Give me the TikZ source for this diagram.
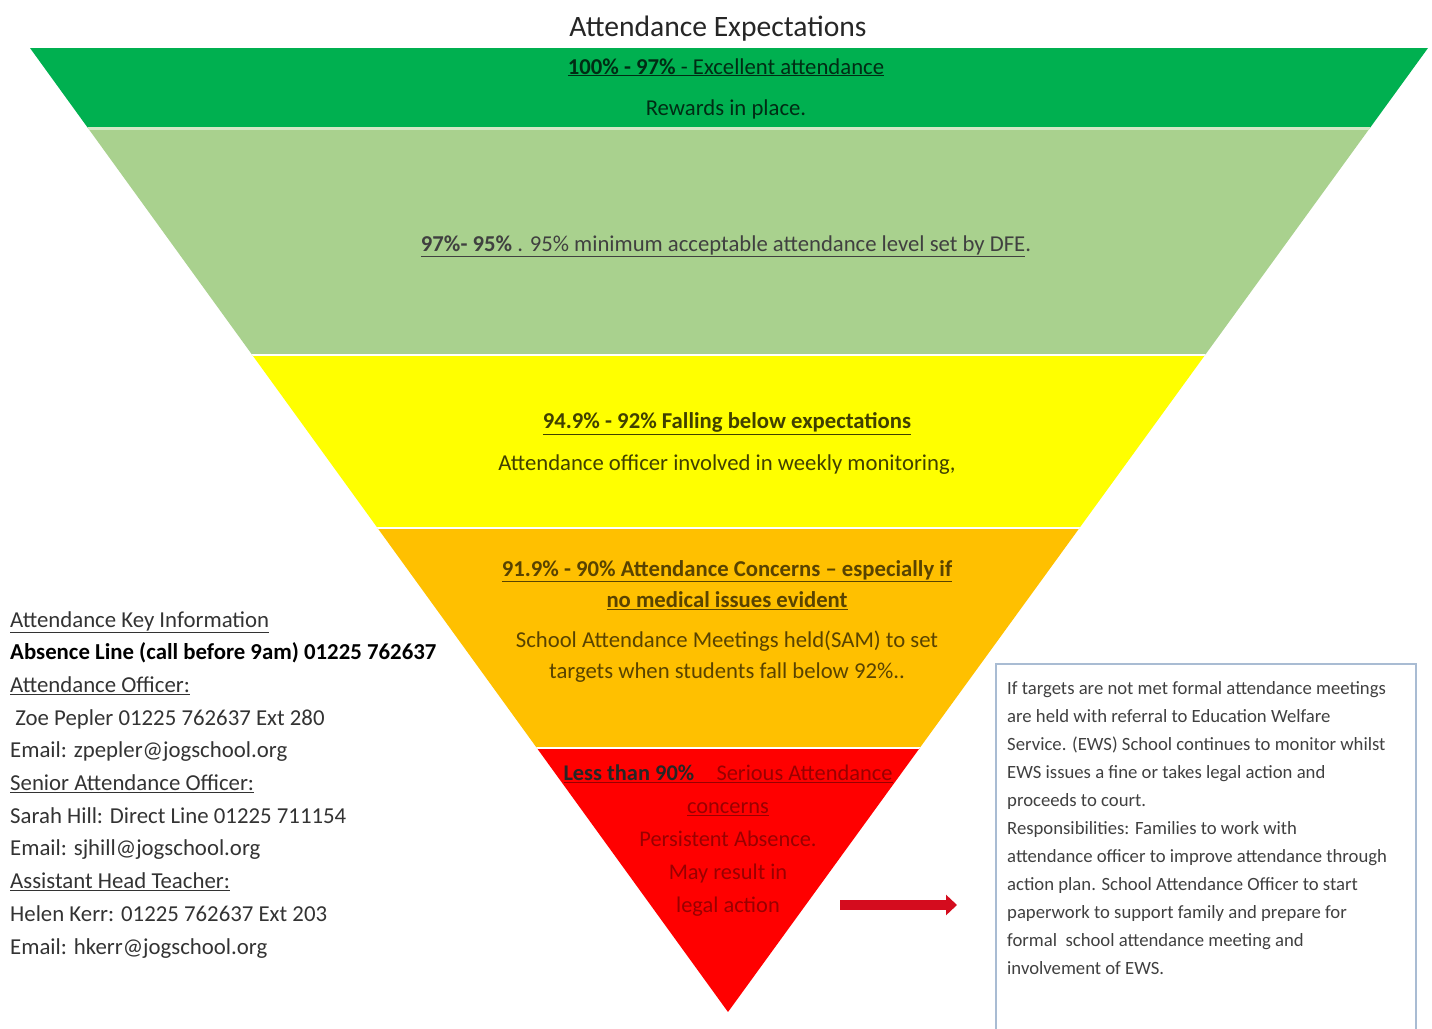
\documentclass[tikz,border=0pt]{standalone}
\usepackage{fontspec}
\setmainfont{Carlito}
\usepackage{xcolor}
\usetikzlibrary{arrows.meta,calc}
\definecolor{cverdeosc}{HTML}{00B050}
\definecolor{cverdecla}{HTML}{A9D18E}
\definecolor{camarillo}{HTML}{FFFF00}
\definecolor{cnaranja}{HTML}{FFC000}
\definecolor{crojo}{HTML}{FF0000}
\definecolor{cflecha}{HTML}{D40C1E}
\definecolor{cborde}{HTML}{A9BCD3}
\definecolor{cgris}{HTML}{404040}
\tikzset{
  separa/.style={draw=white, line width=1.5pt},
  etq/.style={align=center, inner sep=0pt, font={\fontsize{22.7}{32}\selectfont}},
  info/.style={align=left, anchor=north west, inner sep=0pt, text=black!80,
    font={\fontsize{22.8}{32.7}\selectfont}},
  cajanota/.style={anchor=north west, align=left, inner xsep=11pt,
    inner ysep=17pt, text=cgris, font={\fontsize{18.7}{28}\selectfont}},
  flecharoja/.style={-{Triangle[length=11pt,width=20pt]}, line width=10pt, draw=cflecha},
}

\begin{document}
\begin{tikzpicture}[x=1pt,y=-1pt]
  \useasboundingbox (0,0) rectangle (1432,1028);
  \coordinate (ti) at (30,48); \coordinate (td) at (1428,48); \coordinate (ap) at (728,1012);
  % franjas del triangulo
  \begin{scope}
    \clip (ti) -- (td) -- (ap) -- cycle;
    \fill[cverdeosc] (0,48) rectangle (1432,128);
    \fill[cverdecla] (0,128) rectangle (1432,355);
    \fill[camarillo] (0,355) rectangle (1432,528);
    \fill[cnaranja] (0,528) rectangle (1432,748);
    \fill[crojo] (0,748) rectangle (1432,1012);
    \draw[draw=cverdecla!50!white, line width=3pt] (0,128) -- (1432,128);
    \foreach \y in {355,528,748} \draw[separa] (0,\y) -- (1432,\y);
  \end{scope}
  \node[font={\fontsize{29.6}{34}\selectfont}, text=black!85] (tit) at (718,29) {Attendance Expectations};
  \node[etq, text=cverdeosc!25!black, font={\fontsize{22.7}{41}\selectfont}] (b1) at (726,88.5)
    {\underline{\textbf{100\% - 97\%} - Excellent attendance}\\ Rewards in place.};
  \node[etq, text=cgris] (b2) at (726,246)
    {\underline{\textbf{97\%- 95\%} . 95\% minimum acceptable attendance level set by DFE}.};
  \node[etq, text=camarillo!25!black, font={\fontsize{22.7}{42}\selectfont}] (b3) at (727,443.5)
    {\underline{\textbf{94.9\% - 92\% Falling below expectations}}\\ Attendance officer involved in weekly monitoring,};
  \node[etq, text=cnaranja!35!black, font={\fontsize{22.7}{31}\selectfont}] (b4) at (727,621.5)
    {\underline{\textbf{91.9\% - 90\% Attendance Concerns – especially if}}\\
     \underline{\textbf{no medical issues evident}}\\[9pt]
     School Attendance Meetings held(SAM) to set\\ targets when students fall below 92\%..};
  \node[etq, text=crojo!60!black, font={\fontsize{22.4}{33}\selectfont}] (b5) at (728,840.5)
    {\underline{{\color{black!85}\textbf{Less than 90\%}}\quad Serious Attendance}\\
     \underline{concerns}\\ Persistent Absence.\\ May result in\\ legal action};
  % informacion clave
  \node[info] (inf) at (10,611)
    {\underline{Attendance Key Information}\\
     {\color{black}\textbf{Absence Line (call before 9am) 01225 762637}}\\
     \underline{Attendance Officer:}\\
     \ Zoe Pepler 01225 762637 Ext 280\\
     Email: zpepler@jogschool.org\\
     \underline{Senior Attendance Officer:}\\
     Sarah Hill: Direct Line 01225 711154\\
     Email: sjhill@jogschool.org\\
     \underline{Assistant Head Teacher:}\\
     Helen Kerr: 01225 762637 Ext 203\\
     Email: hkerr@jogschool.org};
  \node[cajanota] (nota) at (996,664)
    {If targets are not met formal attendance meetings\\
     are held with referral to Education Welfare\\
     Service. (EWS) School continues to monitor whilst\\
     EWS issues a fine or takes legal action and\\
     proceeds to court.\\
     Responsibilities: Families to work with\\
     attendance officer to improve attendance through\\
     action plan. School Attendance Officer to start\\
     paperwork to support family and prepare for\\
     formal\ \ school attendance meeting and\\
     involvement of EWS.};
  \draw[cborde, line width=1.8pt] ($(nota.north west)+(0,400)$) -- (nota.north west)
    -- ($(nota.north west)+(420,0)$) -- ($(nota.north west)+(420,400)$);
  \coordinate (fi) at (840,905); \coordinate (ff) at (957,905);
  \draw[flecharoja] (fi) -- (ff);
\end{tikzpicture}
\end{document}
